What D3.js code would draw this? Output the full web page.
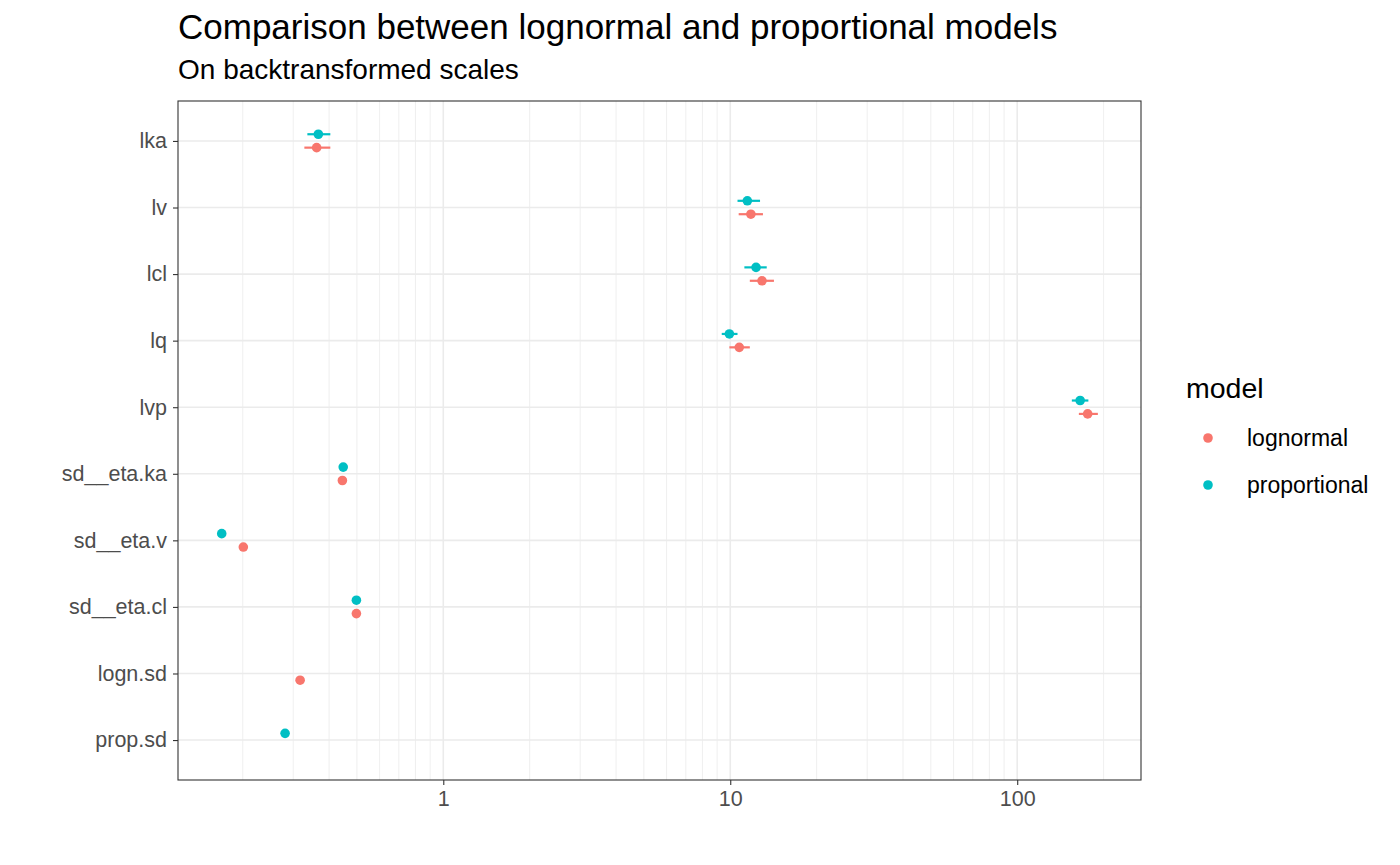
<!DOCTYPE html>
<html><head><meta charset="utf-8">
<script src="https://cdn.jsdelivr.net/npm/d3@7"></script>
<style>body{margin:0;background:#fff;font-family:"Liberation Sans",Arial,sans-serif}</style>
</head><body>
<script>
const params = ["lka","lv","lcl","lq","lvp","sd__eta.ka","sd__eta.v","sd__eta.cl","logn.sd","prop.sd"];
const models = ["lognormal","proportional"];
const colors = ["#F8766D","#00BFC4"];
// estimates and intervals (null = not in model)
const lognEst = [0.362, 11.8, 12.9, 10.75, 176, 0.445, 0.201, 0.498, 0.317, null];
const lognLo  = [0.328, 10.7, 11.7, 9.93, 164, null, null, null, null, null];
const lognHi  = [0.404, 13.0, 14.2, 11.7, 191, null, null, null, null, null];
const propEst = [0.367, 11.47, 12.3, 9.93, 165.7, 0.448, 0.169, 0.498, null, 0.281];
const propLo  = [0.336, 10.6, 11.2, 9.34, 155, null, null, null, null, null];
const propHi  = [0.404, 12.7, 13.4, 10.6, 177, null, null, null, null, null];
const xTicks = [1, 10, 100];

const W = 1400, H = 865;
const m = {left:178, top:101, right:1141, bottom:780};
const svg = d3.select("body").append("svg").attr("width", W).attr("height", H);

const x = d3.scaleLog().domain([0.119, 270]).range([m.left, m.right]);
const y = d3.scalePoint().domain(params).range([m.top, m.bottom]).padding(0.6);

const g = svg.append("g");
g.append("rect").attr("x", m.left).attr("y", m.top).attr("width", m.right-m.left)
  .attr("height", m.bottom-m.top).attr("fill", "#fff");

// minor grid
const minor = [];
[0.1, 1, 10, 100].forEach(d => { for (let k = 2; k <= 9; k++) minor.push(d*k); });
g.selectAll(".minor").data(minor.filter(v => v > 0.119 && v < 270)).join("line")
  .attr("x1", d => x(d)).attr("x2", d => x(d)).attr("y1", m.top).attr("y2", m.bottom)
  .attr("stroke", "#ebebeb").attr("stroke-width", 0.8);
g.selectAll(".major").data(xTicks).join("line")
  .attr("x1", d => x(d)).attr("x2", d => x(d)).attr("y1", m.top).attr("y2", m.bottom)
  .attr("stroke", "#ebebeb").attr("stroke-width", 1.6);
g.selectAll(".hgrid").data(params).join("line")
  .attr("x1", m.left).attr("x2", m.right).attr("y1", d => y(d)).attr("y2", d => y(d))
  .attr("stroke", "#ebebeb").attr("stroke-width", 1.6);

// data
const off = 6.7;
const series = [
  {est: lognEst, lo: lognLo, hi: lognHi, c: colors[0], dy: off},
  {est: propEst, lo: propLo, hi: propHi, c: colors[1], dy: -off}
];
series.forEach(s => {
  const rows = params.map((p, i) => ({p, e: s.est[i], lo: s.lo[i], hi: s.hi[i]}));
  g.selectAll(null).data(rows.filter(r => r.lo != null)).join("line")
    .attr("x1", r => x(r.lo)).attr("x2", r => x(r.hi))
    .attr("y1", r => y(r.p) + s.dy).attr("y2", r => y(r.p) + s.dy)
    .attr("stroke", s.c).attr("stroke-width", 2.2);
  g.selectAll(null).data(rows.filter(r => r.e != null)).join("circle")
    .attr("cx", r => x(r.e)).attr("cy", r => y(r.p) + s.dy).attr("r", 4.8).attr("fill", s.c);
});

g.append("rect").attr("x", m.left).attr("y", m.top).attr("width", m.right-m.left)
  .attr("height", m.bottom-m.top).attr("fill", "none").attr("stroke", "#333").attr("stroke-width", 1.1);

// axes
const xa = svg.append("g").attr("transform", `translate(0,${m.bottom})`)
  .call(d3.axisBottom(x).tickValues(xTicks).tickFormat(d3.format("d")).tickSize(5).tickPadding(6));
const ya = svg.append("g").attr("transform", `translate(${m.left},0)`)
  .call(d3.axisLeft(y).tickSize(5).tickPadding(6));
[xa, ya].forEach(a => {
  a.select(".domain").remove();
  a.selectAll("line").attr("stroke", "#333").attr("stroke-width", 1.1);
  a.selectAll("text").attr("fill", "#4d4d4d").style("font-size", "21.5px")
    .style("font-family", "Liberation Sans, Arial, sans-serif");
});

// titles
svg.append("text").attr("x", 178).attr("y", 39).attr("font-size", 35).text("Comparison between lognormal and proportional models");
svg.append("text").attr("x", 178).attr("y", 79).attr("font-size", 28).text("On backtransformed scales");

// legend
svg.append("text").attr("x", 1186).attr("y", 398).attr("font-size", 28.5).text("model");
models.forEach((md, i) => {
  svg.append("circle").attr("cx", 1208).attr("cy", 438 + i*47).attr("r", 4.8).attr("fill", colors[i]);
  svg.append("text").attr("x", 1247).attr("y", 446 + i*47).attr("font-size", 23).text(md);
});
</script>
</body></html>
